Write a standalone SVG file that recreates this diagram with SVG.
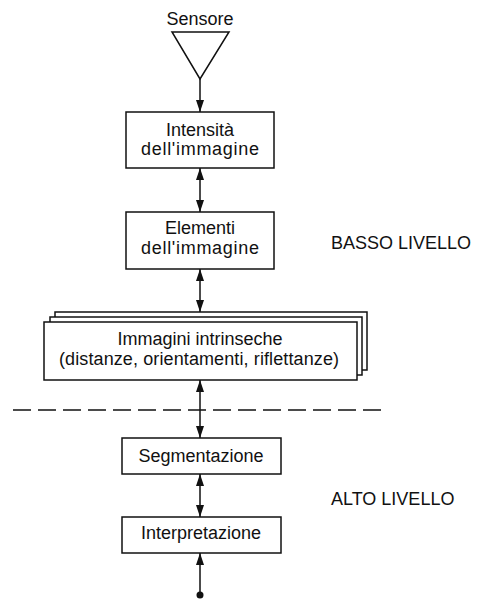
<svg xmlns="http://www.w3.org/2000/svg" width="477" height="601" viewBox="0 0 477 601">
  <style>
    .box { fill: #fff; stroke: #111; stroke-width: 1.5; }
    .lbl { font-family: "Liberation Sans", Arial, sans-serif; font-size: 18px; fill: #111; text-anchor: middle; }
    .side { font-family: "Liberation Sans", Arial, sans-serif; font-size: 18px; fill: #111; }
    .conn { stroke: #111; stroke-width: 1.5; fill: none; }
  </style>
  <defs>
    <marker id="tip" markerUnits="userSpaceOnUse" markerWidth="12" markerHeight="8" refX="12" refY="4" orient="auto-start-reverse" viewBox="0 0 12 8">
      <path d="M0,0 L12,4 L0,8 Z" fill="#111"/>
    </marker>
  </defs>

  <rect width="477" height="601" fill="#fff"/>

  <g id="sensore">
    <text class="lbl" x="200" y="25">Sensore</text>
    <polygon class="box" points="172,32 229,32 200,79"/>
  </g>

  <g id="intensita">
    <rect class="box" x="126" y="112" width="148" height="56"/>
    <text class="lbl" x="200" y="136">Intensità</text>
    <text class="lbl" x="200" y="155" textLength="118" lengthAdjust="spacing">dell'immagine</text>
  </g>

  <g id="elementi">
    <rect class="box" x="126" y="212" width="148" height="57"/>
    <text class="lbl" x="200" y="234">Elementi</text>
    <text class="lbl" x="200" y="254" textLength="118" lengthAdjust="spacing">dell'immagine</text>
  </g>

  <g id="intrinseche">
    <rect class="box" x="55" y="312" width="312" height="58"/>
    <rect class="box" x="50" y="317" width="312" height="58"/>
    <rect class="box" x="44" y="322" width="313" height="58"/>
    <text class="lbl" x="200" y="345">Immagini intrinseche</text>
    <text class="lbl" x="199" y="365" textLength="280" lengthAdjust="spacing">(distanze, orientamenti, riflettanze)</text>
  </g>

  <g id="segmentazione">
    <rect class="box" x="122" y="438" width="159" height="36"/>
    <text class="lbl" x="201" y="462">Segmentazione</text>
  </g>

  <g id="interpretazione">
    <rect class="box" x="122" y="517" width="159" height="36"/>
    <text class="lbl" x="201" y="539">Interpretazione</text>
  </g>

  <g id="livelli">
    <text class="side" x="331" y="249">BASSO LIVELLO</text>
    <text class="side" x="331" y="505">ALTO LIVELLO</text>
    <line x1="13" y1="410" x2="387" y2="410" stroke="#111" stroke-width="1.6" stroke-dasharray="18 7"/>
  </g>

  <g id="connectors">
    <line class="conn" x1="200" y1="79" x2="200" y2="112" marker-end="url(#tip)"/>
    <line class="conn" x1="200" y1="168" x2="200" y2="212" marker-start="url(#tip)" marker-end="url(#tip)"/>
    <line class="conn" x1="200" y1="269" x2="200" y2="312" marker-start="url(#tip)" marker-end="url(#tip)"/>
    <line class="conn" x1="200" y1="380" x2="200" y2="438" marker-start="url(#tip)" marker-end="url(#tip)"/>
    <line class="conn" x1="200" y1="474" x2="200" y2="517" marker-start="url(#tip)" marker-end="url(#tip)"/>
    <line class="conn" x1="200" y1="595" x2="200" y2="553" marker-end="url(#tip)"/>
    <circle cx="200" cy="595" r="3.5" fill="#111"/>
  </g>
</svg>
